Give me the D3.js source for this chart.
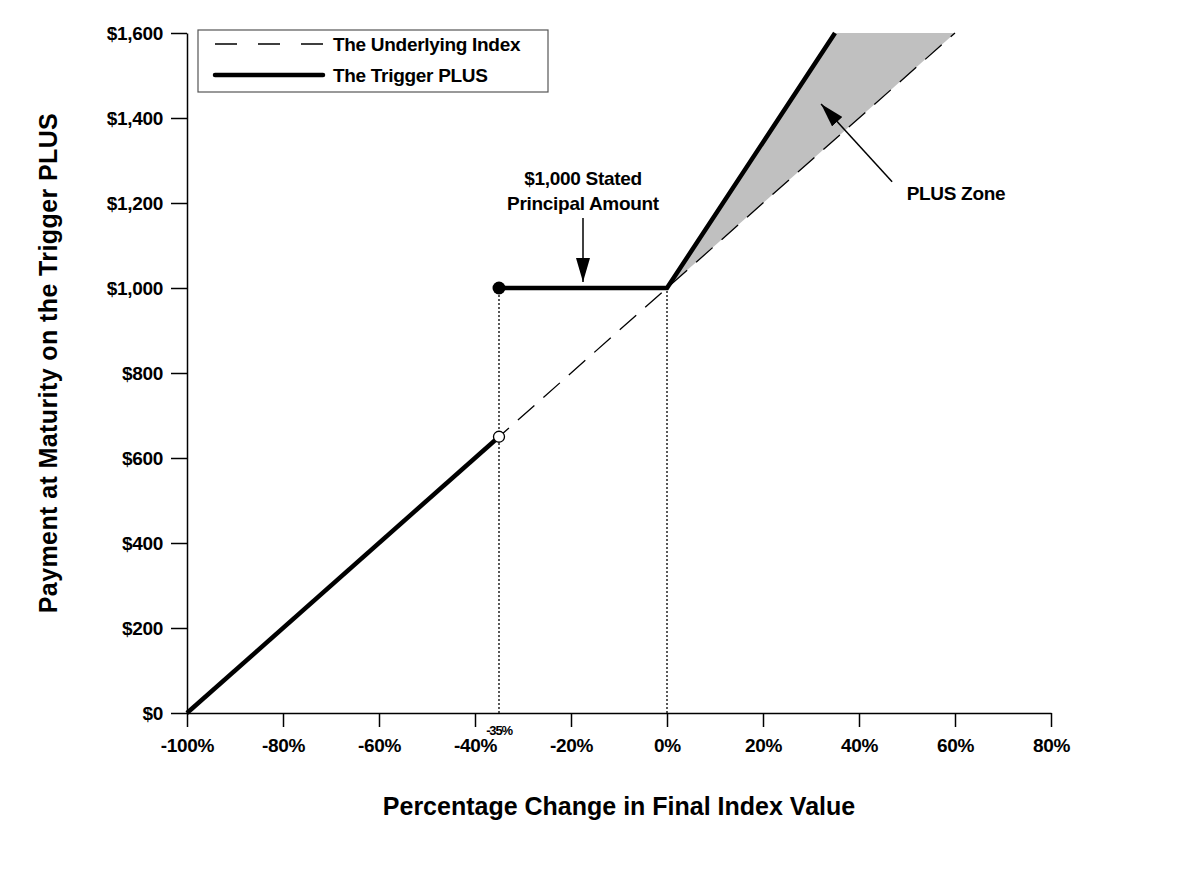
<!DOCTYPE html>
<html>
<head>
<meta charset="utf-8">
<script src="https://cdn.jsdelivr.net/npm/d3@7"></script>
<style>
  body { margin: 0; background: #fff; }
  text { font-family: "Liberation Sans", Arial, sans-serif; font-weight: bold; fill: #000; }
  .axis path, .axis line { stroke: #000; stroke-width: 1.5; }
  .axis text { font-size: 19px; letter-spacing: -0.3px; }
</style>
</head>
<body>
<svg id="chart" width="1193" height="894"></svg>
<script>
// percentage change in final index value vs payment at maturity
var xTicks = [-100, -80, -60, -40, -20, 0, 20, 40, 60, 80];
var yTicks = [0, 200, 400, 600, 800, 1000, 1200, 1400, 1600];

var underlyingPts = [[-100, 0], [60, 1600]];
var triggerLow = [[-100, 0], [-35, 650]];
var triggerHigh = [[-35, 1000], [0, 1000], [35, 1600]];
var plusZone = [[0, 1000], [35, 1600], [60, 1600]];
var barrier = -35;

var margin = {top: 33, left: 187},
    width = 1051 - 187,
    height = 713 - 33;

var svg = d3.select('#chart')
  .append('g')
  .attr('transform', 'translate(' + margin.left + ',' + margin.top + ')');

var x = d3.scaleLinear().domain([-100, 80]).range([0, width]);
var y = d3.scaleLinear().domain([0, 1600]).range([height, 0]);

var line = d3.line().x(d => x(d[0])).y(d => y(d[1]));

// shaded PLUS zone
svg.append('path')
  .datum(plusZone)
  .attr('d', d => line(d) + 'Z')
  .attr('fill', '#c0c0c0')
  .attr('stroke', 'none');

// dotted guides
[barrier, 0].forEach(v => {
  svg.append('line')
    .attr('x1', x(v)).attr('x2', x(v))
    .attr('y1', y(0)).attr('y2', y(1000))
    .attr('stroke', '#000')
    .attr('stroke-width', 1.3)
    .attr('stroke-dasharray', '2,2');
});

// axes
svg.append('g')
  .attr('class', 'axis')
  .attr('transform', 'translate(0,' + height + ')')
  .call(d3.axisBottom(x).tickValues(xTicks).tickSize(14).tickSizeOuter(0).tickPadding(12)
    .tickFormat(d => d + '%'));

svg.append('g')
  .attr('class', 'axis')
  .call(d3.axisLeft(y).tickValues(yTicks).tickSize(16).tickSizeOuter(0).tickPadding(8)
    .tickFormat(d => '$' + d3.format(',')(d)));

svg.append('text')
  .attr('x', x(barrier))
  .attr('y', height + 22)
  .attr('text-anchor', 'middle')
  .style('font-size', '13px')
  .style('letter-spacing', '-1.2px')
  .text(barrier + '%');

// underlying (dashed)
svg.append('path')
  .datum(underlyingPts)
  .attr('d', line)
  .attr('fill', 'none')
  .attr('stroke', '#000')
  .attr('stroke-width', 1.3)
  .attr('stroke-dasharray', '22,12');

// trigger PLUS (thick)
[triggerLow, triggerHigh].forEach(seg => {
  svg.append('path')
    .datum(seg)
    .attr('d', line)
    .attr('fill', 'none')
    .attr('stroke', '#000')
    .attr('stroke-width', 4.5);
});

svg.append('circle')
  .attr('cx', x(barrier)).attr('cy', y(1000)).attr('r', 6.5)
  .attr('fill', '#000');

svg.append('circle')
  .attr('cx', x(barrier)).attr('cy', y(650)).attr('r', 5.5)
  .attr('fill', '#fff').attr('stroke', '#000').attr('stroke-width', 1.3);

// arrow marker
d3.select('#chart').append('defs').append('marker')
  .attr('id', 'head')
  .attr('viewBox', '0 0 24 14')
  .attr('refX', 24).attr('refY', 7)
  .attr('markerWidth', 24).attr('markerHeight', 14)
  .attr('markerUnits', 'userSpaceOnUse')
  .attr('orient', 'auto')
  .append('path')
  .attr('d', 'M0,0L24,7L0,14Z')
  .attr('fill', '#000');

// stated principal annotation
var ax = x(-17.5);
svg.append('text').attr('x', ax).attr('y', 152).attr('text-anchor', 'middle')
  .style('font-size', '19px').style('letter-spacing', '-0.3px').text('$1,000 Stated');
svg.append('text').attr('x', ax).attr('y', 177).attr('text-anchor', 'middle')
  .style('font-size', '19px').style('letter-spacing', '-0.3px').text('Principal Amount');
svg.append('line')
  .attr('x1', ax).attr('x2', ax)
  .attr('y1', 185).attr('y2', y(1000) - 6)
  .attr('stroke', '#000').attr('stroke-width', 1.5)
  .attr('marker-end', 'url(#head)');

// PLUS zone annotation
svg.append('line')
  .attr('x1', x(46.9)).attr('y1', y(1250))
  .attr('x2', x(32.1)).attr('y2', y(1433))
  .attr('stroke', '#000').attr('stroke-width', 1.5)
  .attr('marker-end', 'url(#head)');
svg.append('text').attr('x', x(60.2)).attr('y', 167).attr('text-anchor', 'middle')
  .style('font-size', '19px').style('letter-spacing', '-0.3px').text('PLUS Zone');

// axis titles
d3.select('#chart').append('text')
  .attr('transform', 'translate(57,363) rotate(-90)')
  .attr('text-anchor', 'middle')
  .style('font-size', '25px')
  .style('letter-spacing', '0.4px')
  .text('Payment at Maturity on the Trigger PLUS');

d3.select('#chart').append('text')
  .attr('x', 619).attr('y', 815)
  .attr('text-anchor', 'middle')
  .style('font-size', '25px')
  .text('Percentage Change in Final Index Value');

// legend
var legend = d3.select('#chart').append('g').attr('transform', 'translate(198,30)');
legend.append('rect')
  .attr('width', 350).attr('height', 62)
  .attr('fill', '#fff').attr('stroke', '#555').attr('stroke-width', 1.2);
legend.append('line')
  .attr('x1', 17).attr('x2', 125).attr('y1', 14).attr('y2', 14)
  .attr('stroke', '#000').attr('stroke-width', 1.3).attr('stroke-dasharray', '22,21');
legend.append('line')
  .attr('x1', 17).attr('x2', 125).attr('y1', 45).attr('y2', 45)
  .attr('stroke', '#000').attr('stroke-width', 4.5).attr('stroke-linecap', 'round');
legend.append('text').attr('x', 135).attr('y', 21)
  .style('font-size', '19px').style('letter-spacing', '-0.3px').text('The Underlying Index');
legend.append('text').attr('x', 135).attr('y', 52)
  .style('font-size', '19px').style('letter-spacing', '-0.3px').text('The Trigger PLUS');
</script>
</body>
</html>
